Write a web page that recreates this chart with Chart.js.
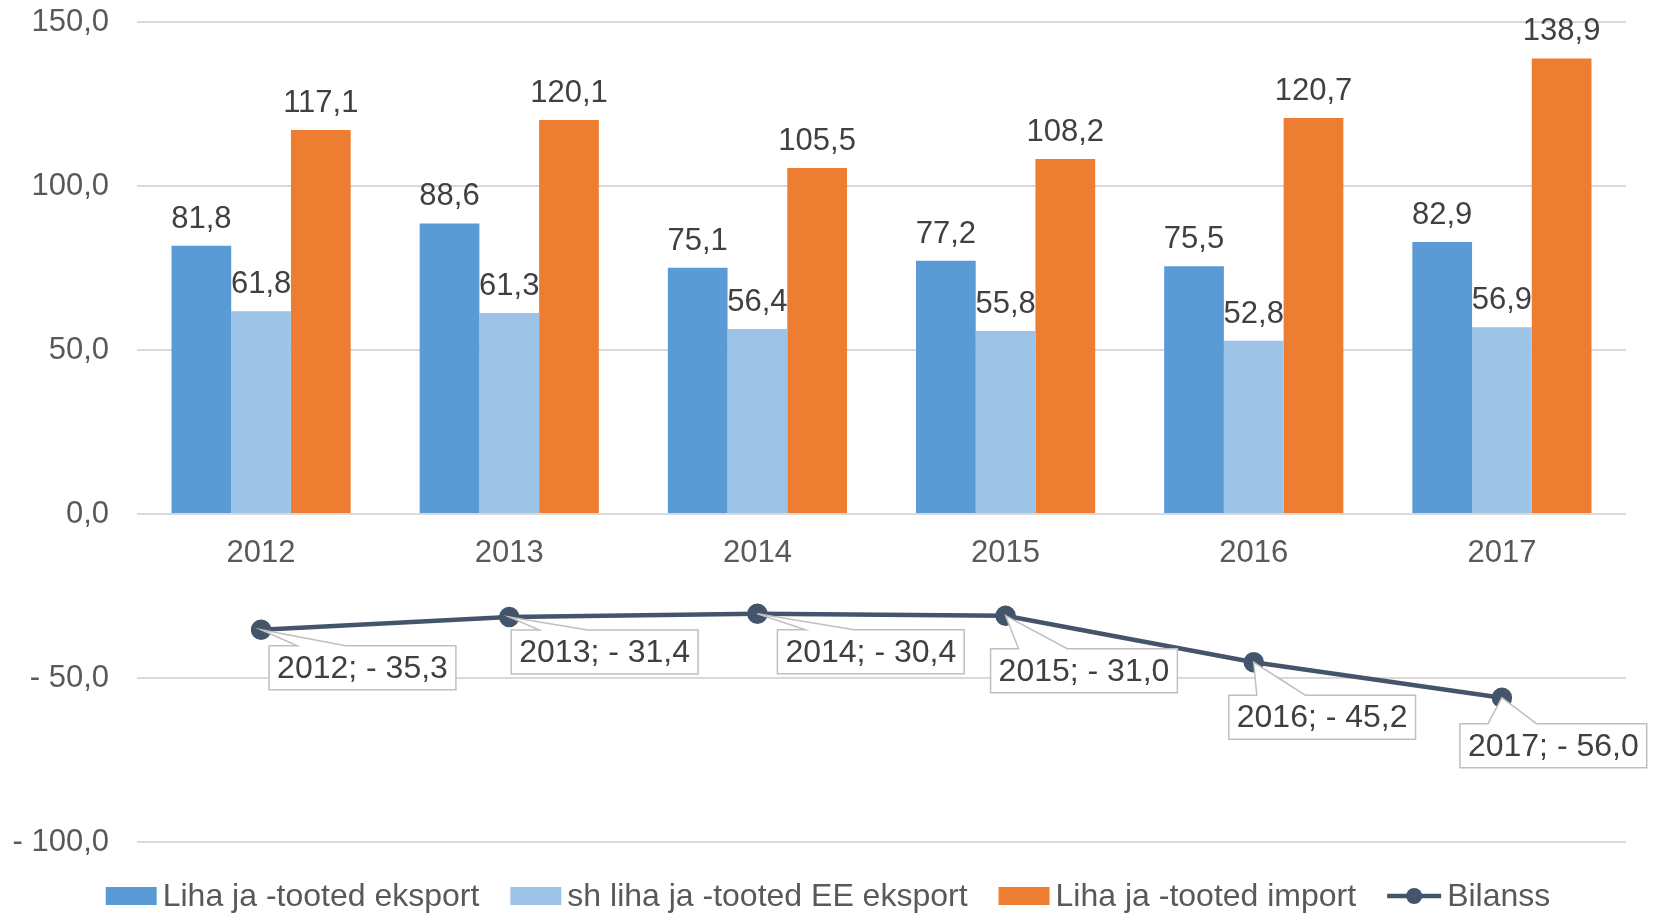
<!DOCTYPE html>
<html>
<head>
<meta charset="utf-8">
<script src="https://cdn.jsdelivr.net/npm/chart.js@4.4.1/dist/chart.umd.min.js"></script>
<style>
  html, body { margin: 0; padding: 0; background: #fff; }
  #wrap { width: 1656px; height: 914px; position: relative; }
</style>
</head>
<body>
<div id="wrap"><canvas id="chart"></canvas></div>
<script>
// data
const years = ['2012', '2013', '2014', '2015', '2016', '2017'];
const eksport = [81.8, 88.6, 75.1, 77.2, 75.5, 82.9];
const eeEksport = [61.8, 61.3, 56.4, 55.8, 52.8, 56.9];
const importValues = [117.1, 120.1, 105.5, 108.2, 120.7, 138.9];
const bilanss = [-35.3, -31.4, -30.4, -31.0, -45.2, -56.0];
const seriesNames = ['Liha ja -tooted eksport', 'sh liha ja -tooted EE eksport', 'Liha ja -tooted import', 'Bilanss'];
const yTicks = [-100, -50, 0, 50, 100, 150];

const colors = ['#5B9BD5', '#9DC3E6', '#ED7D31', '#44546A'];
const FONT = '"Liberation Sans", Arial, sans-serif';

// where each Bilanss callout box sits, relative to its point (px)
const calloutOffsets = [[8, 16], [2, 13], [20, 16], [-15, 33], [-25, 33], [-42, 26]];

const fmt = v => (v < 0 ? '- ' : '') + Math.abs(v).toFixed(1).replace('.', ',');

// year labels sit just under the zero line, like the original axis
const yearLabels = {
  id: 'yearLabels',
  afterDraw(chart) {
    const ctx = chart.ctx;
    const { x, y } = chart.scales;
    const y0 = y.getPixelForValue(0);
    ctx.save();
    ctx.font = '31px ' + FONT;
    ctx.fillStyle = '#595959';
    ctx.textAlign = 'center';
    ctx.textBaseline = 'middle';
    years.forEach((yr, j) => ctx.fillText(yr, x.getPixelForValue(j), y0 + 39));
    ctx.restore();
  }
};

const barLabels = {
  id: 'barLabels',
  afterDatasetsDraw(chart) {
    const ctx = chart.ctx;
    ctx.save();
    ctx.font = '31px ' + FONT;
    ctx.fillStyle = '#404040';
    ctx.textAlign = 'center';
    ctx.textBaseline = 'alphabetic';
    for (let i = 0; i < 3; i++) {
      const meta = chart.getDatasetMeta(i);
      const vals = chart.data.datasets[i].data;
      meta.data.forEach((bar, j) => {
        ctx.fillText(fmt(vals[j]), bar.x, bar.y - 18);
      });
    }

    // callouts for the balance line
    ctx.font = '32px ' + FONT;
    const meta = chart.getDatasetMeta(3);
    meta.data.forEach((pt, j) => {
      const text = years[j] + '; ' + fmt(bilanss[j]);
      const w = ctx.measureText(text).width + 16;
      const h = 44;
      const bx = pt.x + calloutOffsets[j][0];
      const by = pt.y + calloutOffsets[j][1];
      ctx.beginPath();
      ctx.moveTo(bx, by);
      ctx.lineTo(bx + w * 0.15, by);
      ctx.lineTo(pt.x, pt.y);
      ctx.lineTo(bx + w * 0.41, by);
      ctx.lineTo(bx + w, by);
      ctx.lineTo(bx + w, by + h);
      ctx.lineTo(bx, by + h);
      ctx.closePath();
      ctx.fillStyle = '#fff';
      ctx.fill();
      ctx.strokeStyle = '#BFBFBF';
      ctx.lineWidth = 1.5;
      ctx.stroke();
      ctx.fillStyle = '#404040';
      ctx.textBaseline = 'middle';
      ctx.fillText(text, bx + w / 2, by + h / 2 + 1);
    });
    ctx.restore();
  }
};

const legendRow = {
  id: 'legendRow',
  afterDraw(chart) {
    const ctx = chart.ctx;
    ctx.save();
    ctx.font = '32px ' + FONT;
    const y = 896;
    const items = seriesNames.map((name, i) => ({
      name, i, icon: i === 3 ? 54 : 51, tw: ctx.measureText(name).width
    }));
    let total = 0;
    items.forEach((it, k) => { total += it.icon + 6 + it.tw + (k < items.length - 1 ? 31 : 0); });
    let x = (chart.width - total) / 2;
    items.forEach(it => {
      if (it.i < 3) {
        ctx.fillStyle = colors[it.i];
        ctx.fillRect(x, y - 9, it.icon, 18);
      } else {
        ctx.strokeStyle = colors[3];
        ctx.lineWidth = 4.5;
        ctx.beginPath();
        ctx.moveTo(x, y);
        ctx.lineTo(x + it.icon, y);
        ctx.stroke();
        ctx.fillStyle = colors[3];
        ctx.beginPath();
        ctx.arc(x + it.icon / 2, y, 8, 0, Math.PI * 2);
        ctx.fill();
      }
      x += it.icon + 6;
      ctx.fillStyle = '#595959';
      ctx.textAlign = 'left';
      ctx.textBaseline = 'middle';
      ctx.fillText(it.name, x, y + 1);
      x += it.tw + 31;
    });
    ctx.restore();
  }
};

new Chart('chart', {
  type: 'bar',
  data: {
    labels: years,
    datasets: [
      { label: seriesNames[0], data: eksport, backgroundColor: colors[0], order: 1 },
      { label: seriesNames[1], data: eeEksport, backgroundColor: colors[1], order: 1 },
      { label: seriesNames[2], data: importValues, backgroundColor: colors[2], order: 1 },
      {
        type: 'line', label: seriesNames[3], data: bilanss, order: 0,
        borderColor: colors[3], backgroundColor: colors[3], borderWidth: 4.5,
        pointRadius: 8, pointBackgroundColor: colors[3], pointBorderColor: colors[3],
        tension: 0
      }
    ]
  },
  options: {
    responsive: true,
    maintainAspectRatio: false,
    animation: false,
    categoryPercentage: 0.722,
    barPercentage: 1.0,
    layout: { padding: { top: 22, left: 0, right: 30, bottom: 72 } },
    plugins: { legend: { display: false }, tooltip: { enabled: false } },
    scales: {
      x: {
        display: false,
        offset: true
      },
      y: {
        min: -100, max: 150,
        afterBuildTicks: scale => { scale.ticks = yTicks.map(v => ({ value: v })); },
        afterFit: scale => {
          scale.width = 137;
          scale.paddingTop = 0;
          scale.paddingBottom = 0;
        },
        grid: { color: '#D9D9D9', lineWidth: 2, drawTicks: false },
        border: { display: false },
        ticks: {
          color: '#595959', font: { family: FONT, size: 31 }, padding: 28,
          callback: v => fmt(v)
        }
      }
    }
  },
  plugins: [barLabels, yearLabels, legendRow]
});
</script>
</body>
</html>
